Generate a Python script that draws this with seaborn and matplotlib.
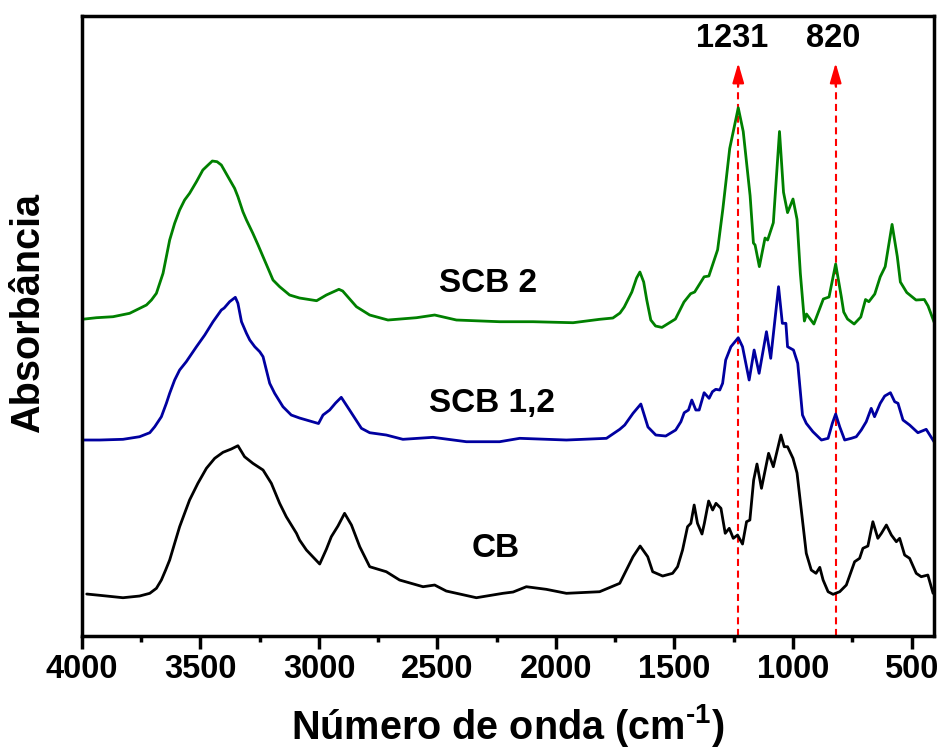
import numpy as np
import pandas as pd
import seaborn as sns
import matplotlib
matplotlib.use("Agg")
import matplotlib.pyplot as plt

# FTIR spectra (wavenumber in cm-1, absorbance in offset arbitrary units)
wn_scb2 = [4000, 3939, 3869, 3799, 3728, 3707, 3686, 3672, 3658, 3644, 3630, 3609, 3588, 3567,
           3546, 3517, 3490, 3468, 3450, 3430, 3412, 3384, 3356, 3342, 3321, 3306, 3279, 3257,
           3236, 3215, 3194, 3166, 3124, 3082, 3010, 2969, 2916, 2900, 2842, 2786, 2709, 2589,
           2512, 2420, 2238, 2097, 1928, 1816, 1760, 1730, 1712, 1680, 1660, 1646, 1630, 1617,
           1600, 1580, 1553, 1496, 1460, 1432, 1415, 1375, 1355, 1318, 1296, 1267, 1231,
           1210, 1181, 1167, 1160, 1142, 1118, 1107, 1083, 1057, 1040, 1023, 1000, 983,
           969, 952, 943, 912, 872, 848, 820, 796, 786, 770, 742, 714, 694, 680, 655, 632,
           611, 582, 560, 547, 520, 481, 446, 430, 405]
abs_scb2 = [3.167, 3.183, 3.193, 3.227, 3.31, 3.36, 3.427, 3.527, 3.627, 3.793, 3.96, 4.127, 4.26, 4.36,
            4.427, 4.543, 4.66, 4.71, 4.75, 4.743, 4.71, 4.593, 4.477, 4.393, 4.243, 4.16, 4.027, 3.91,
            3.793, 3.677, 3.56, 3.493, 3.41, 3.38, 3.353, 3.41, 3.467, 3.45, 3.293, 3.21, 3.16, 3.183,
            3.21, 3.16, 3.143, 3.143, 3.133, 3.167, 3.18, 3.23, 3.29, 3.44, 3.58, 3.64, 3.54, 3.36,
            3.16, 3.10, 3.086, 3.17, 3.34, 3.423, 3.44, 3.592, 3.60, 3.863, 4.27, 4.876, 5.282,
            5.045, 4.403, 3.93, 3.91, 3.694, 3.98, 3.96, 4.133, 5.045, 4.437, 4.234, 4.37, 4.167,
            3.626, 3.15, 3.22, 3.12, 3.37, 3.39, 3.72, 3.39, 3.24, 3.17, 3.12, 3.19, 3.365, 3.343,
            3.42, 3.592, 3.694, 4.116, 3.795, 3.54, 3.435, 3.36, 3.365, 3.30, 3.14]

wn_scb12 = [4000, 3925, 3827, 3757, 3714, 3693, 3665, 3644, 3630, 3609, 3588, 3560, 3517, 3482,
            3447, 3412, 3400, 3377, 3353, 3342, 3327, 3306, 3292, 3271, 3250, 3236, 3222, 3208,
            3187, 3152, 3117, 3082, 3002, 2983, 2955, 2930, 2906, 2871,
            2821, 2786, 2716, 2646, 2519, 2378, 2238, 2153, 1956, 1787, 1731, 1710, 1675,
            1642, 1612, 1579, 1537, 1495, 1473, 1459, 1441, 1427, 1410, 1396, 1375, 1354,
            1340, 1326, 1309, 1297, 1284, 1262, 1231, 1213, 1185, 1164, 1143, 1112, 1094,
            1061, 1045, 1030, 1023, 998, 980, 960, 944, 916, 880, 852, 834, 820, 803, 782,
            754, 733, 712, 691, 670, 656, 632, 613, 589, 571, 557, 536, 508, 473, 438, 405]
abs_scb12 = [1.96, 1.96, 1.967, 1.993, 2.033, 2.093, 2.193, 2.327, 2.427, 2.56, 2.66, 2.743, 2.893, 3.01,
             3.143, 3.26, 3.28, 3.343, 3.387, 3.327, 3.143, 3.027, 2.96, 2.893, 2.843, 2.793, 2.66, 2.527,
             2.427, 2.293, 2.21, 2.18, 2.125, 2.21, 2.26, 2.33, 2.387, 2.26,
             2.077, 2.033, 2.01, 1.967, 1.987, 1.943, 1.943, 1.977, 1.96, 1.977, 2.067, 2.11, 2.227,
             2.32, 2.09, 2.01, 2.00, 2.06, 2.143, 2.233, 2.26, 2.36, 2.26, 2.26, 2.433, 2.377,
             2.443, 2.467, 2.46, 2.527, 2.76, 2.893, 2.983, 2.893, 2.56, 2.86, 2.627, 3.043, 2.777,
             3.493, 3.127, 3.127, 2.893, 2.86, 2.727, 2.21, 2.127, 2.043, 1.96, 1.977, 2.127, 2.22,
             2.093, 1.96, 1.977, 1.993, 2.06, 2.143, 2.277, 2.193, 2.327, 2.40, 2.433, 2.343, 2.327,
             2.16, 2.11, 2.033, 2.067, 1.943]

wn_cb = [3980, 3925, 3827, 3757, 3714, 3686, 3665, 3647, 3630, 3609, 3588, 3567, 3546, 3511,
         3475, 3440, 3405, 3370, 3342, 3314, 3279, 3236, 3201, 3166, 3138, 3095, 3082, 3053,
         2997, 2969, 2948, 2920, 2892, 2863, 2828, 2786, 2716, 2660, 2561,
         2512, 2463, 2336, 2224, 2181, 2125, 2041, 1956, 1816, 1731, 1675, 1645, 1613, 1592,
         1550, 1508, 1487, 1466, 1445, 1431, 1417, 1403, 1384, 1374, 1356, 1339, 1325, 1304,
         1286, 1269, 1252, 1234, 1213, 1196, 1182, 1166, 1152, 1133, 1103, 1083, 1051, 1037,
         1023, 1000, 983, 965, 944, 923, 903, 887, 873, 852, 831, 803, 775, 740, 719, 705, 684,
         663, 642, 627, 606, 585, 564, 550, 529, 508, 480, 459, 431, 409]
abs_cb = [0.42, 0.407, 0.383, 0.40, 0.427, 0.477, 0.56, 0.66, 0.76, 0.927, 1.093, 1.227, 1.36, 1.527,
          1.677, 1.777, 1.837, 1.87, 1.903, 1.793, 1.727, 1.66, 1.527, 1.327, 1.193, 1.027, 0.96, 0.86,
          0.72, 0.867, 0.993, 1.10, 1.227, 1.11, 0.893, 0.693, 0.643, 0.56, 0.493,
          0.51, 0.45, 0.383, 0.427, 0.44, 0.493, 0.467, 0.427, 0.443, 0.527, 0.793, 0.90, 0.793, 0.643,
          0.60, 0.627, 0.693, 0.86, 1.093, 1.127, 1.31, 1.127, 1.02, 1.127, 1.35, 1.26, 1.327, 1.277,
          1.027, 1.077, 0.977, 1.01, 0.92, 1.143, 1.16, 1.56, 1.72, 1.477, 1.827, 1.693, 2.01, 1.893,
          1.893, 1.777, 1.63, 1.26, 0.827, 0.66, 0.627, 0.687, 0.56, 0.443, 0.417, 0.443, 0.51, 0.743,
          0.777, 0.877, 0.90, 1.143, 0.977, 1.027, 1.11, 1.01, 0.943, 0.977, 0.81, 0.777, 0.627, 0.593,
          0.61, 0.427]

series_names = ["SCB 2", "SCB 1,2", "CB"]
series_colors = ["#008000", "#0000A0", "#000000"]
label_pos = [(2288, 3.53), (2271, 2.33), (2255, 0.88)]

marked_bands = [1231, 820]
band_labels = ["1231", "820"]
band_label_x = [1257, 830]

xticks_major = [4000, 3500, 3000, 2500, 2000, 1500, 1000, 500]
xticks_minor = [3750, 3250, 2750, 2250, 1750, 1250, 750]

frames = []
for name, wn, ab in [("SCB 2", wn_scb2, abs_scb2),
                     ("SCB 1,2", wn_scb12, abs_scb12),
                     ("CB", wn_cb, abs_cb)]:
    frames.append(pd.DataFrame({"wn": wn, "abs": ab, "amostra": name}))
df = pd.concat(frames, ignore_index=True)

sns.set_theme(style="white")
plt.rcParams["font.family"] = ["Liberation Sans", "DejaVu Sans"]
plt.rcParams["font.weight"] = "bold"
plt.rcParams["text.color"] = "black"
plt.rcParams["axes.labelcolor"] = "black"
plt.rcParams["xtick.color"] = "black"
plt.rcParams["ytick.color"] = "black"
plt.rcParams["mathtext.fontset"] = "custom"
plt.rcParams["mathtext.rm"] = "Liberation Sans:bold"
plt.rcParams["mathtext.bf"] = "Liberation Sans:bold"
plt.rcParams["mathtext.it"] = "Liberation Sans:bold"
plt.rcParams["mathtext.default"] = "bf"

fig = plt.figure(figsize=(9.39, 7.48), dpi=100)
ax = fig.add_axes([0.0873, 0.1497, 0.9074, 0.8289])

sns.lineplot(data=df, x="wn", y="abs", hue="amostra", hue_order=series_names,
             palette=series_colors, estimator=None, sort=False, linewidth=2.0,
             legend=False, ax=ax)
for line in ax.get_lines():
    line.set_solid_joinstyle("round")
    line.set_solid_capstyle("round")

ax.set_xlim(4000, 405)
ax.set_ylim(0, 6.2)

# dashed markers with arrowheads at the two bands
for band, txt, tx in zip(marked_bands, band_labels, band_label_x):
    ax.plot([band, band], [0, 5.62], color="#FF0000", lw=1.5,
            linestyle=(0, (3.4, 2.2)), zorder=1)
    ax.annotate("", xy=(band, 5.73), xytext=(band, 5.50),
                arrowprops=dict(arrowstyle="-|>,head_length=1.2,head_width=0.35",
                                color="#FF0000", lw=1.5, mutation_scale=10,
                                shrinkA=0, shrinkB=0))
    ax.text(tx, 5.98, txt, ha="center", va="center", fontsize=23.5,
            fontweight="bold", color="black")

for name, (lx, ly) in zip(series_names, label_pos):
    ax.text(lx, ly, name, ha="center", va="center", fontsize=24,
            fontweight="bold", color="black")

ax.set_xticks(xticks_major)
ax.set_xticks(xticks_minor, minor=True)
ax.set_xticklabels([str(t) for t in xticks_major])
ax.set_yticks([])
ax.tick_params(axis="x", which="major", direction="out", length=9, width=2.5,
               labelsize=23.5, pad=4, bottom=True, top=False, color="black",
               labelcolor="black")
ax.tick_params(axis="x", which="minor", direction="out", length=4.5, width=2.5,
               bottom=True, top=False, color="black")
for lbl in ax.get_xticklabels():
    lbl.set_fontweight("bold")

for sp in ax.spines.values():
    sp.set_visible(True)
    sp.set_linewidth(2.5)
    sp.set_color("black")

ax.set_xlabel(r"Número de onda (cm$^{\text{-}1}$)", fontsize=28.5, fontweight="bold",
              labelpad=12.5, color="black")
ax.set_ylabel("Absorbância", fontsize=28.5, fontweight="bold", color="black")
ax.yaxis.set_label_coords(-0.0635, 0.521)
ax.yaxis.label.set_va("center")

fig.savefig("out.png", dpi=100)
